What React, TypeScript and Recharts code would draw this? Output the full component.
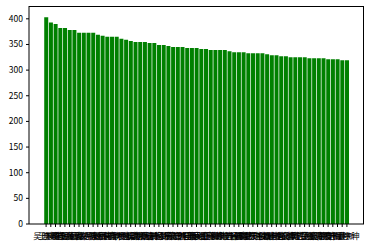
import { Bar, BarChart, XAxis, YAxis } from "recharts";

const names = [
  "吴晓峰", "王建国", "李明辉", "刘志强", "陈思远", "杨海涛", "赵丽娜", "黄俊杰", "周文博", "徐子涵",
  "孙浩然", "马晓东", "朱雨桐", "胡建华", "郭志明", "何欣怡", "高宇航", "林佳琪", "罗振宇", "郑嘉豪",
  "梁思成", "谢雨晨", "宋佳怡", "唐诗雨", "许家乐", "韩梦瑶", "冯子轩", "邓文杰", "曹雪琴", "彭晓燕",
  "曾国平", "肖雅婷", "田家豪", "董明亮", "袁立新", "潘晓峰", "于海洋", "蒋志远", "蔡明轩", "余志诚",
  "杜子腾", "叶晨曦", "程国栋", "苏梦琪", "魏天宇", "吕晓婷", "丁俊峰", "任嘉伟", "沈佳宜", "姚明远",
  "卢思琪", "姜文涛", "崔浩宇", "钟雨萱", "谭志刚", "陆子豪", "汪晓明", "范文静", "金海波", "石宇轩",
  "廖雪梅", "贾志豪", "夏雨婷", "韦建新", "付宇坤"
];

const scores = [
  403, 393, 390, 382, 382, 378, 378, 373, 373, 373,
  373, 369, 367, 365, 365, 365, 361, 359, 357, 355,
  355, 355, 353, 353, 349, 349, 347, 345, 345, 345,
  343, 343, 343, 341, 341, 339, 339, 339, 339, 337,
  335, 335, 335, 333, 333, 333, 333, 331, 329, 329,
  327, 327, 325, 325, 325, 325, 323, 323, 323, 323,
  321, 321, 321, 319, 319
];

const yTicks = [0, 50, 100, 150, 200, 250, 300, 350, 400];

const data = names.map((name, i) => ({ name, score: scores[i] }));

const font = "'Noto Sans CJK SC', sans-serif";
const tickStyle = { fontSize: 8.5, fill: "#000", fontFamily: font };

export default function App() {
  return (
    <div style={{ position: "absolute", left: 0, top: 0, width: 371, height: 248, background: "#fff" }}>
      <BarChart
        width={371}
        height={248}
        data={data}
        margin={{ top: 6, right: 7, bottom: 0, left: 0 }}
        barCategoryGap="10%"
      >
        <XAxis
          dataKey="name"
          interval={0}
          height={24}
          padding={{ left: 14.75, right: 14.75 }}
          tick={tickStyle}
          tickSize={3}
          tickMargin={6}
          axisLine={{ stroke: "#000" }}
          tickLine={{ stroke: "#000" }}
        />
        <YAxis
          type="number"
          domain={[0, 425]}
          ticks={yTicks}
          width={29}
          tick={tickStyle}
          tickSize={3}
          tickMargin={3}
          axisLine={{ stroke: "#000" }}
          tickLine={{ stroke: "#000" }}
        />
        <Bar dataKey="score" fill="#008000" isAnimationActive={false} />
      </BarChart>
      {/* top and right spines of the axes box */}
      <div
        style={{
          position: "absolute",
          left: 29,
          top: 6,
          width: 335,
          height: 218,
          borderTop: "1px solid #000",
          borderRight: "1px solid #000",
          boxSizing: "border-box",
          pointerEvents: "none"
        }}
      />
    </div>
  );
}
